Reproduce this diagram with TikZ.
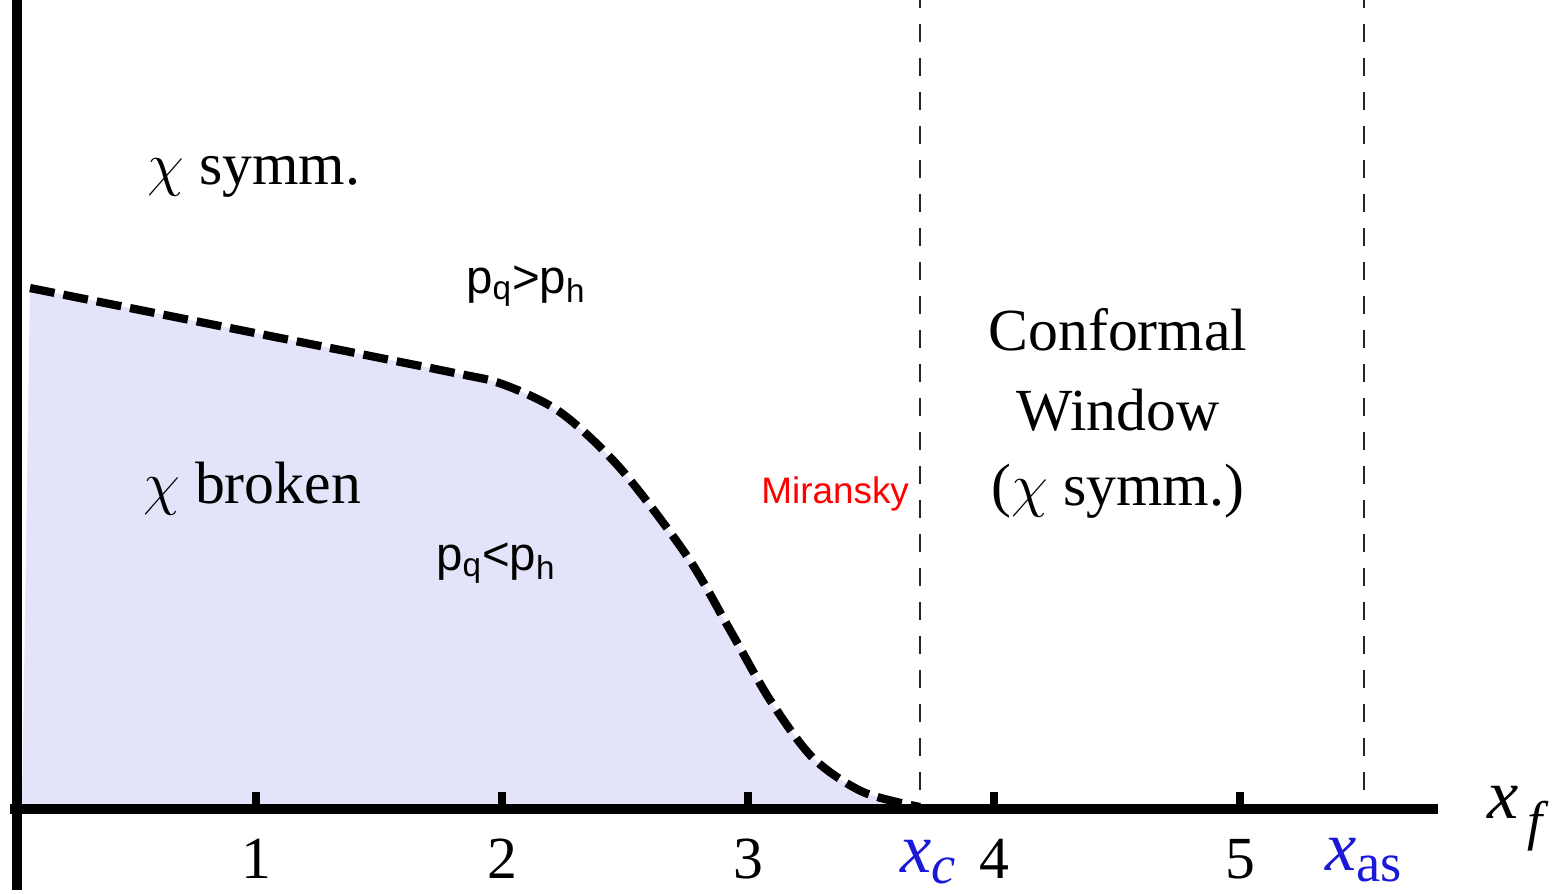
\documentclass[tikz,border=0pt]{standalone}
\usepackage{fontspec}
\setmainfont{Liberation Serif}
\setsansfont{Liberation Sans}
\definecolor{fillc}{RGB}{227,227,250}
\definecolor{xblue}{RGB}{25,25,215}
\definecolor{mred}{RGB}{255,0,0}
\newcommand{\fsz}[1]{\fontsize{#1}{1.15\dimexpr#1\relax}\selectfont}
\newcommand{\bigchi}{\scalebox{1.37}{\Huge$\chi$}}
\begin{document}
\begin{tikzpicture}[x=0.02cm,y=-0.02cm,
  serifbig/.style={font=\fsz{34pt}, inner sep=0pt, anchor=base},
  sanslab/.style={font=\sffamily\fsz{27pt}, inner sep=0pt, anchor=base},
  ticklab/.style={font=\fsz{34pt}, inner sep=0pt, anchor=base},
  bluelab/.style={font=\fsz{40pt}, text=xblue, inner sep=0pt, anchor=base west},
  axisline/.style={line width=0.21cm},
  tickmark/.style={line width=0.17cm},
  vdash/.style={line width=0.04cm, draw=black!85, dash pattern=on 0.36cm off 0.32cm, dash phase=0.2cm},
  boundary/.style={line width=0.165cm, dash pattern=on 0.5cm off 0.18cm}]
\useasboundingbox (0,0) rectangle (1568,893);
% region fill
\fill[fillc] (22,809) -- (30,288) -- plot[smooth,tension=0.5] coordinates{(30,288) (250,332) (450,372) (502,384) (560,412) (620,468) (687,556) (730,630) (770,700) (813,758) (863,792) (920,807)} -- (920,809) -- cycle;
% coordinates
\coordinate (ytop) at (17,0);
\coordinate (ybot) at (17,890);
\coordinate (xl) at (10,809);
\coordinate (xr) at (1438,809);
\coordinate (ct) at (920,0);
\coordinate (cb) at (920,809);
\coordinate (at) at (1364,0);
\coordinate (ab) at (1364,809);
% dashed vertical lines
\draw[vdash] (ct) -- (cb);
\draw[vdash] (at) -- (ab);
% boundary curve
\draw[boundary] plot[smooth,tension=0.5] coordinates{(30,288) (250,332) (450,372) (502,384) (560,412) (620,468) (687,556) (730,630) (770,700) (813,758) (863,792) (920,807)};
% axes
\draw[axisline] (ytop) -- (ybot);
\draw[axisline] (xl) -- (xr);
% ticks
\foreach \i/\xx in {1/256,2/502,3/748,4/994,5/1240}{
  \coordinate (tk\i a) at (\xx,792);
  \coordinate (tk\i b) at (\xx,809);
  \draw[tickmark] (tk\i a) -- (tk\i b);
  \node[ticklab] (tl\i) at (\xx,878) {\i};
}
% blue labels
\node[bluelab] (xc) at (900,872) {\itshape x\raisebox{-0.17em}{\fsz{31pt}c}};
\node[bluelab] (xas) at (1325,870) {\itshape x\raisebox{-0.17em}{\upshape\fsz{31pt}as}};
\node[font=\fsz{40pt}, inner sep=0pt, anchor=base west] (xf) at (1487,818) {\itshape x\raisebox{-0.3em}{\fsz{31pt}\,f}};
% region texts
\node[serifbig, anchor=base west] (symm) at (147,184) {\bigchi\ symm.};
\node[serifbig, anchor=base west] (broken) at (143,503) {\bigchi\ broken};
\node[sanslab, anchor=base west] (pgt) at (466,293) {p\textsubscript{q}>p\textsubscript{h}};
\node[sanslab, anchor=base west] (plt) at (436,570) {p\textsubscript{q}<p\textsubscript{h}};
\node[font=\sffamily\fsz{21pt}, text=mred, inner sep=0pt, anchor=base west] (mir) at (761,503) {Miransky};
\node[serifbig] (conf) at (1118,350) {Conformal};
\node[serifbig] (win) at (1118,430) {Window};
\node[serifbig] (csymm) at (1118,505) {(\bigchi\ symm.)};
\end{tikzpicture}
\end{document}
